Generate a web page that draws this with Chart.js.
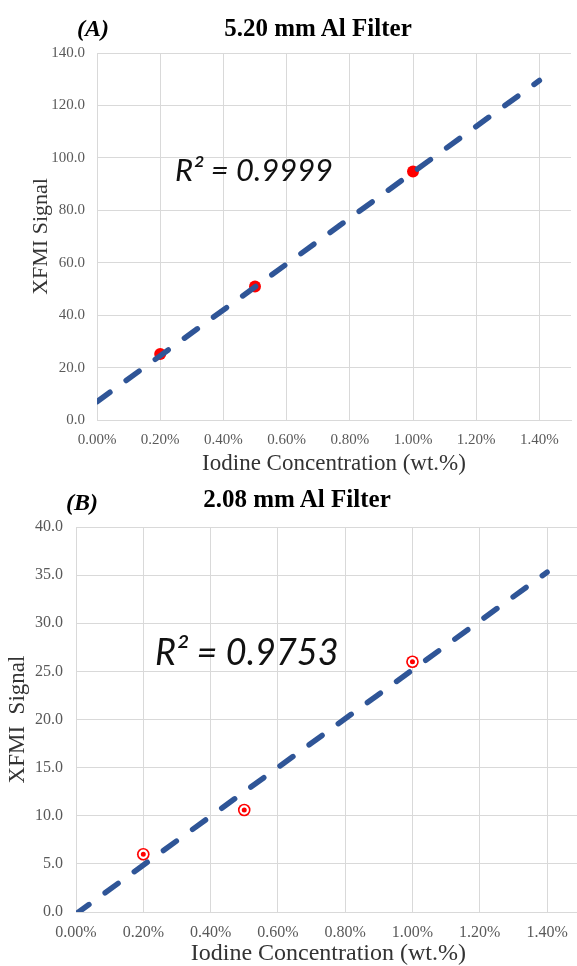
<!DOCTYPE html>
<html>
<head>
<meta charset="utf-8">
<script src="https://cdn.jsdelivr.net/npm/chart.js@4.4.0/dist/chart.umd.min.js"></script>
<style>
  html, body { margin:0; padding:0; background:#fff; width:577px; height:966px; overflow:hidden; position:relative; }
  .abs { position:absolute; white-space:nowrap; line-height:1; }
  .panel { font-family:"Liberation Serif","DejaVu Serif",serif; font-weight:bold; font-style:italic; font-size:24px; color:#000; }
  .title { font-family:"Liberation Serif","DejaVu Serif",serif; font-weight:bold; font-size:25px; color:#000; transform:translateX(-50%); }
  .r2 { font-family:Lato,"Open Sans",sans-serif; font-style:italic; color:#111; }
  canvas { position:absolute; }
</style>
</head>
<body>
<canvas id="cA" width="577" height="483" style="left:0;top:0"></canvas>
<canvas id="cB" width="587" height="483" style="left:0;top:483px"></canvas>

<div class="abs panel" style="left:77px;top:16px">(A)</div>
<div class="abs title" style="left:318px;top:15px">5.20 mm Al Filter</div>
<div class="abs r2" style="left:175px;top:154px;font-size:31px">R² = 0.9999</div>

<div class="abs panel" style="left:66px;top:490px">(B)</div>
<div class="abs title" style="left:297px;top:486px">2.08 mm Al Filter</div>
<div class="abs r2" style="left:155px;top:633px;font-size:36px">R² = 0.9753</div>

<script>
// ---- data ----
const xTickValues = [0, 0.2, 0.4, 0.6, 0.8, 1.0, 1.2, 1.4];

// Panel A: 5.20 mm Al filter
const concA = [0.2, 0.5, 1.0];
const signalA = [25.2, 50.9, 94.8];
const trendXA = [0, 1.4];
const trendYA = [7.0, 129.5];
const yTicksA = [0, 20, 40, 60, 80, 100, 120, 140];

// Panel B: 2.08 mm Al filter
const concB = [0.2, 0.5, 1.0];
const signalB = [6.0, 10.6, 26.0];
const trendXB = [0, 1.4];
const trendYB = [-0.2, 35.3];
const yTicksB = [0, 5, 10, 15, 20, 25, 30, 35, 40];

const xTitle = 'Iodine Concentration (wt.%)';
const yTitleA = 'XFMI Signal';
const yTitleB = 'XFMI  Signal';

// ---- helpers ----
const pts = (xs, ys) => xs.map((x, i) => ({ x: x, y: ys[i] }));
const GRID = '#d9d9d9';
const TICK = '#595959';
const LINE = '#2f5597';
const RED = '#ff0000';

function makeChart(id, cfg) {
  const ctx = document.getElementById(id);
  const datasets = [
    {
      type: 'line',
      data: pts(cfg.trendX, cfg.trendY),
      borderColor: LINE,
      borderWidth: 5.5,
      borderDash: cfg.dash,
      borderCapStyle: 'round',
      pointRadius: 0,
      fill: false,
      tension: 0
    }
  ];
  if (cfg.ring) {
    datasets.push({
      data: pts(cfg.conc, cfg.signal),
      pointRadius: 3.6,
      backgroundColor: RED,
      borderColor: '#ffffff',
      borderWidth: 2.2
    });
    datasets.push({
      data: pts(cfg.conc, cfg.signal),
      pointRadius: 6.3,
      backgroundColor: RED,
      borderWidth: 0
    });
  } else {
    datasets.push({
      data: pts(cfg.conc, cfg.signal),
      pointRadius: 6,
      backgroundColor: RED,
      borderWidth: 0
    });
  }
  return new Chart(ctx, {
    type: 'scatter',
    data: { datasets: datasets },
    options: {
      responsive: false,
      animation: false,
      devicePixelRatio: 1,
      layout: { padding: { top: cfg.padTop, left: 0, right: 0, bottom: 0 } },
      plugins: { legend: { display: false }, tooltip: { enabled: false }, title: { display: false } },
      scales: {
        x: {
          type: 'linear',
          min: 0, max: 1.5,
          afterBuildTicks: s => { s.ticks = xTickValues.map(v => ({ value: v })); },
          afterFit: s => { s.height = cfg.xHeight; },
          grid: { color: GRID, lineWidth: 1, drawTicks: false },
          border: { color: GRID, width: 1 },
          ticks: {
            padding: cfg.xTickPad,
            color: TICK,
            font: { family: '"Liberation Serif", serif', size: cfg.tickSize },
            maxRotation: 0,
            callback: v => v.toFixed(2) + '%'
          },
          title: {
            display: true,
            text: xTitle,
            color: '#333333',
            font: { family: '"Liberation Serif", serif', size: cfg.titleSize, lineHeight: 1 },
            padding: { top: 0, bottom: cfg.xTitlePad }
          }
        },
        y: {
          min: 0, max: cfg.yMax,
          afterBuildTicks: s => { s.ticks = cfg.yTicks.map(v => ({ value: v })); },
          afterFit: s => { s.width = cfg.yWidth; },
          grid: { color: GRID, lineWidth: 1, drawTicks: false },
          border: { color: GRID, width: 1 },
          ticks: {
            padding: cfg.yTickPad,
            color: TICK,
            font: { family: '"Liberation Serif", serif', size: cfg.tickSize },
            callback: v => v.toFixed(1)
          },
          title: {
            display: true,
            text: cfg.yTitle,
            color: '#333333',
            font: { family: '"Liberation Serif", serif', size: cfg.yTitleSize, lineHeight: 1 },
            padding: { top: cfg.yTitlePad, bottom: 0 }
          }
        }
      }
    }
  });
}

makeChart('cA', {
  conc: concA, signal: signalA, trendX: trendXA, trendY: trendYA,
  yTicks: yTicksA, yMax: 140, yTitle: yTitleA,
  padTop: 53, xHeight: 63, yWidth: 97,
  xTickPad: 11, yTickPad: 12, tickSize: 15, titleSize: 23, yTitleSize: 22,
  xTitlePad: 8, yTitlePad: 30, dash: [16, 20], ring: false
});

makeChart('cB', {
  conc: concB, signal: signalB, trendX: trendXB, trendY: trendYB,
  yTicks: yTicksB, yMax: 40, yTitle: yTitleB,
  padTop: 44, xHeight: 54, yWidth: 76,
  xTickPad: 11, yTickPad: 13, tickSize: 16, titleSize: 24, yTitleSize: 23,
  xTitlePad: 0, yTitlePad: 6, dash: [16, 20], ring: true
});
</script>
</body>
</html>
